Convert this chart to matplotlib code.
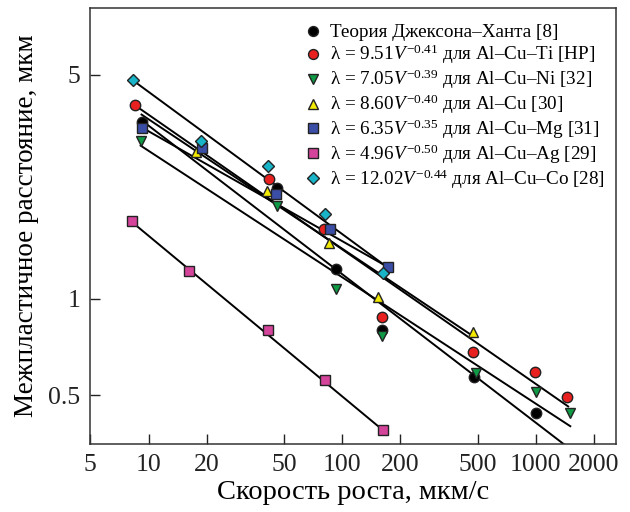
import matplotlib
matplotlib.use('Agg')
import matplotlib.pyplot as plt
from matplotlib.ticker import FixedLocator, FixedFormatter, NullLocator

plt.rcParams['font.family'] = ['Liberation Serif', 'DejaVu Serif']
plt.rcParams['mathtext.fontset'] = 'custom'
plt.rcParams['mathtext.rm'] = 'Liberation Serif'
plt.rcParams['mathtext.it'] = 'Liberation Serif:italic'

# measured points (growth rate V, um/s ; spacing lambda, um)
jh_v = [9.2, 46, 93, 160, 482, 1000]
jh_l = [3.55, 2.22, 1.24, 0.80, 0.57, 0.44]
ti_v = [8.5, 42, 81, 160, 476, 993, 1450]
ti_l = [4.01, 2.36, 1.645, 0.875, 0.684, 0.592, 0.493]
ni_v = [9.1, 46, 93, 160, 490, 1000, 1507]
ni_l = [3.10, 1.945, 1.07, 0.765, 0.588, 0.51, 0.44]
cu_v = [17.6, 40.8, 86, 153, 475]
cu_l = [2.87, 2.17, 1.49, 1.01, 0.787]
mg_v = [9.3, 18.8, 45.5, 87, 172]
mg_l = [3.41, 2.96, 2.115, 1.645, 1.255]
ag_v = [8.24, 16.2, 41.3, 81.6, 163]
ag_l = [1.746, 1.222, 0.799, 0.558, 0.388]
co_v = [8.28, 18.7, 41.3, 81.6, 163]
co_l = [4.80, 3.10, 2.59, 1.835, 1.205]

jh_fit = ([9.2, 1500], [3.60, 0.34])
ti_fit = ([8.5, 1470], [4.01, 0.461])
ni_fit = ([9.1, 1507], [3.00, 0.40])
cu_fit = ([9.2, 480], [3.75, 0.76])
mg_fit = ([9.3, 172], [3.41, 1.255])
ag_fit = ([8.24, 163], [1.73, 0.388])
co_fit = ([8.28, 172], [4.80, 1.25])

labels = [
    'Теория Джексона–Ханта [8]',
    'λ = 9.51$\\mathit{V}^{-0.41}$ для Al–Cu–Ti [HP]',
    'λ = 7.05$\\mathit{V}^{-0.39}$ для Al–Cu–Ni [32]',
    'λ = 8.60$\\mathit{V}^{-0.40}$ для Al–Cu [30]',
    'λ = 6.35$\\mathit{V}^{-0.35}$ для Al–Cu–Mg [31]',
    'λ = 4.96$\\mathit{V}^{-0.50}$ для Al–Cu–Ag [29]',
    'λ = 12.02$\\mathit{V}^{-0.44}$ для Al–Cu–Co [28]',
]

x_ticks = [5, 10, 20, 50, 100, 200, 500, 1000, 2000]
y_ticks = [0.5, 1, 5]

series = [
    (jh_v, jh_l, jh_fit, 'o', '#000000'),
    (ti_v, ti_l, ti_fit, 'o', '#e8201f'),
    (ni_v, ni_l, ni_fit, 'v', '#0f9a45'),
    (cu_v, cu_l, cu_fit, '^', '#f2ea00'),
    (mg_v, mg_l, mg_fit, 's', '#3b4ea6'),
    (ag_v, ag_l, ag_fit, 's', '#d4449b'),
    (co_v, co_l, co_fit, 'D', '#1ab4c9'),
]

fig = plt.figure(figsize=(6.3, 5.12), dpi=100)
ax = fig.add_axes([0.1433, 0.1328, 0.8347, 0.8512])
ax.set_xscale('log')
ax.set_yscale('log')

for v, l, fit, mk, col in series:
    ax.plot(fit[0], fit[1], color='black', lw=1.4, zorder=2)
handles = []
for (v, l, fit, mk, col), lab in zip(series, labels):
    ms = 6.5 if mk == 'D' else 7.5
    h, = ax.plot(v, l, ls='none', marker=mk, ms=ms, mfc=col, mec='#222222',
                 mew=1.0, zorder=3, label=lab)
    handles.append(h)

ax.set_xlim(5, 2600)
ax.set_ylim(0.352, 8.05)
ax.xaxis.set_major_locator(FixedLocator(x_ticks))
ax.xaxis.set_major_formatter(FixedFormatter([str(t) for t in x_ticks]))
ax.xaxis.set_minor_locator(NullLocator())
ax.yaxis.set_major_locator(FixedLocator(y_ticks))
ax.yaxis.set_major_formatter(FixedFormatter(['0.5', '1', '5']))
ax.yaxis.set_minor_locator(NullLocator())
ax.tick_params(direction='in', length=7, width=1.0, labelsize=18.5, pad=7,
               colors='#222222')
for s in ax.spines.values():
    s.set_linewidth(1.1)
    s.set_color('#333333')

ax.set_xlabel('Скорость роста, мкм/с', fontsize=20.5, labelpad=3)
ax.set_ylabel('Межпластичное расстояние, мкм', fontsize=19.5, labelpad=7)

ax.legend(handles=handles, loc='upper right', bbox_to_anchor=(1.0, 0.99),
          frameon=False, fontsize=13.8, handlelength=0.8, handletextpad=0.5,
          labelspacing=0.08, borderaxespad=0.3, borderpad=0.3,
          markerscale=0.95)

fig.savefig('out.png', dpi=100)
